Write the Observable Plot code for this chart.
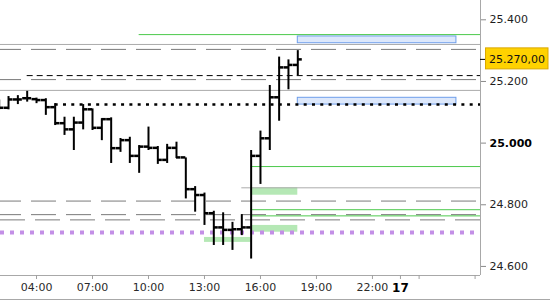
<!DOCTYPE html>
<html><head><meta charset="utf-8">
<script src="https://cdn.jsdelivr.net/npm/d3@7"></script>
<script src="https://cdn.jsdelivr.net/npm/@observablehq/plot@0.6"></script>
<style>
body{margin:0;background:#fff;}
#chart{width:550px;height:299px;border-bottom:1px solid #a8a8a8;overflow:hidden;}
</style></head><body><div id="chart"></div>
<script>
// visible window (session slots, hours from the 16th 00:00) and price range
const xStart = 2.07, xEnd = 27.79;
const yMin = 24570.6, yMax = 25462.6;

// 30-minute OHLC bars
const barTimes = [2,2.5,3,3.5,4,4.5,5,5.5,6,6.5,7,7.5,8,8.5,9,9.5,10,10.5,11,11.5,12,12.5,13,13.5,14,14.5,15,15.5,16,16.5,17,17.5,18];
const opens  = [25118,25113,25140,25144,25141,25138,25115,25063,25043,25065,25108,25048,25076,24982,25008,24957,24987,24983,24944,24983,24952,24849,24830,24771,24725,24717,24719,24725,24957,25014,25147,25244,25252];
const highs  = [25140,25151,25154,25168,25146,25144,25128,25084,25084,25125,25111,25079,25082,25015,25019,24992,25052,24989,24996,25003,24952,24859,24838,24779,24774,24743,24768,24976,25039,25187,25279,25270,25300];
const lows   = [25108,25108,25125,25133,25128,25090,25057,25025,24976,25043,25041,25008,24934,24970,24934,24902,24976,24931,24934,24950,24819,24776,24733,24668,24668,24652,24700,24624,24866,24976,25071,25173,25219];
const closes = [25113,25140,25140,25144,25138,25115,25063,25043,25065,25108,25048,25076,24982,25008,24957,24987,24983,24944,24983,24952,24849,24830,24771,24725,24717,24719,24725,24957,25014,25147,25244,25252,25270];

// horizontal levels
const greenLevels = [25352, 24924, 24784, 24764];
const greenFrom   = [9.5, 15.5, 15.5, 15.5];
const graySolidLevels = [25320, 25171, 24855];
const graySolidFrom   = [xStart, xStart, 15];
const grayDashLevels    = [25304, 25206, 24812, 24768];
const grayDashAltLevels = [24751];
const blackDashLevels = [25219];
const blackDashFrom   = [3.5];
const blackDotLevels  = [25125];
const blackDotFrom    = [5];
const purpleLevels    = [24710];

// zones
const blueLow  = [25324, 25125], blueHigh = [25346, 25147];
const blueFrom = [18, 18],       blueTo   = [26.5, 26.5];
const greenLow  = [24831, 24711, 24678], greenHigh = [24855, 24733, 24694];
const greenZFrom = [15.5, 15.5, 13],     greenZTo  = [18, 18, 15.5];

const lastPrice = 25270;
const lastPriceLabel = "25.270,00";

// axis ticks
const xTickSlots  = [4, 7, 10, 13, 16, 19, 22];
const xTickLabels = ["04:00", "07:00", "10:00", "13:00", "16:00", "19:00", "22:00"];
const dateTickSlots = [23.5];
const dateTickLabels = ["17"];
const minorTickSlots = [24.5, 27.5];
const yTicks = [24600, 24800, 25200, 25400];
const yBoldTicks = [25000];

const bars = barTimes.map((t, i) => ({t, o: opens[i], h: highs[i], l: lows[i], c: closes[i]}));
const lvl = (ys, froms) => ys.map((y, i) => ({y, from: froms ? froms[i] : xStart, to: xEnd}));
const zones = (lo, hi, f, t) => lo.map((v, i) => ({y1: v, y2: hi[i], x1: f[i], x2: t[i]}));

const xFmt = new Map(xTickSlots.map((s, i) => [s, xTickLabels[i]]));
const dFmt = new Map(dateTickSlots.map((s, i) => [s, dateTickLabels[i]]));
const yFmt = d => d3.format(",")(d).replace(/,/g, ".");

const chart = Plot.plot({
  width: 550, height: 299,
  marginLeft: 0, marginRight: 70, marginTop: 0, marginBottom: 24,
  style: {fontFamily: "DejaVu Sans", fontSize: "11px", background: "#fff"},
  x: {domain: [xStart, xEnd], label: null},
  y: {domain: [yMin, yMax], label: null},
  marks: [
    Plot.rect(zones(greenLow, greenHigh, greenZFrom, greenZTo), {x1: "x1", x2: "x2", y1: "y1", y2: "y2", fill: "#b5e8b5"}),
    Plot.rect(zones(blueLow, blueHigh, blueFrom, blueTo), {x1: "x1", x2: "x2", y1: "y1", y2: "y2", fill: "#dde8fb", stroke: "#6e9eea", strokeWidth: 1}),
    Plot.ruleY(lvl(graySolidLevels, graySolidFrom), {y: "y", x1: "from", x2: "to", stroke: "#ababab", strokeWidth: 1}),
    Plot.ruleY(lvl(grayDashLevels), {y: "y", x1: "from", x2: "to", stroke: "#7a7a7a", strokeWidth: 1, strokeDasharray: "25,10", strokeDashoffset: 4}),
    Plot.ruleY(lvl(grayDashAltLevels), {y: "y", x1: "from", x2: "to", stroke: "#7a7a7a", strokeWidth: 1, strokeDasharray: "25,10", strokeDashoffset: 0}),
    Plot.ruleY(lvl(greenLevels, greenFrom), {y: "y", x1: "from", x2: "to", stroke: "#4cc94c", strokeWidth: 1}),
    Plot.ruleY(lvl(blackDashLevels, blackDashFrom), {y: "y", x1: "from", x2: "to", stroke: "#000", strokeWidth: 1, strokeDasharray: "6,4"}),
    Plot.ruleY(lvl(blackDotLevels, blackDotFrom), {y: "y", x1: "from", x2: "to", stroke: "#000", strokeWidth: 2.5, strokeDasharray: "3,5.3"}),
    Plot.ruleY(lvl(purpleLevels), {y: "y", x1: "from", x2: "to", stroke: "#c38fe6", strokeWidth: 4, strokeDasharray: "4,6"}),
    // OHLC bars
    Plot.ruleX(bars, {x: "t", y1: "l", y2: "h", stroke: "#000", strokeWidth: 2, clip: true}),
    Plot.rect(bars, {x1: "t", x2: "t", y1: "o", y2: "o", insetLeft: -4.5, insetTop: -1.25, insetBottom: -1.25, fill: "#000", clip: true}),
    Plot.rect(bars, {x1: "t", x2: "t", y1: "c", y2: "c", insetRight: -4.5, insetTop: -1.25, insetBottom: -1.25, fill: "#000", clip: true}),
    // axis lines
    Plot.ruleX([xEnd], {stroke: "#a8a8a8"}),
    Plot.ruleY([yMin], {stroke: "#a8a8a8"}),
    // axes
    Plot.axisY({anchor: "right", ticks: yTicks, tickFormat: yFmt, tickSize: 5, tickPadding: 4, stroke: "#8a8a8a", fill: "#1e1e1e", label: null}),
    Plot.axisY({anchor: "right", ticks: yBoldTicks, tickFormat: yFmt, tickSize: 5, tickPadding: 4, stroke: "#8a8a8a", fill: "#000", fontWeight: "bold", label: null}),
    Plot.axisX({anchor: "bottom", ticks: xTickSlots, tickFormat: d => xFmt.get(d), tickSize: 4, tickPadding: 4, stroke: "#a0a0a0", fill: "#2a2a2a", label: null}),
    Plot.axisX({anchor: "bottom", ticks: dateTickSlots, tickFormat: d => dFmt.get(d), tickSize: 4, tickPadding: 4, stroke: "#a0a0a0", fill: "#000", fontWeight: "bold", fontSize: 12, label: null}),
    Plot.axisX({anchor: "bottom", ticks: minorTickSlots, tickFormat: () => "", tickSize: 4, stroke: "#a0a0a0", label: null})
  ]
});
document.getElementById("chart").appendChild(chart);

// current price marker on the right axis
const yPos = chart.scale("y").apply(lastPrice);
const g = d3.select(chart).append("g");
g.append("rect").attr("x", 485.5).attr("y", yPos - 11.5).attr("width", 62.5).attr("height", 21)
  .attr("fill", "#ffd200").attr("stroke", "#dba800");
g.append("line").attr("x1", 480).attr("x2", 485).attr("y1", yPos).attr("y2", yPos).attr("stroke", "#000");
g.append("text").attr("x", 489).attr("y", yPos).attr("dy", "0.35em").attr("text-anchor", "start")
  .attr("font-family", "DejaVu Sans").attr("font-size", 11).attr("fill", "#111").text(lastPriceLabel);
</script>
</body></html>
